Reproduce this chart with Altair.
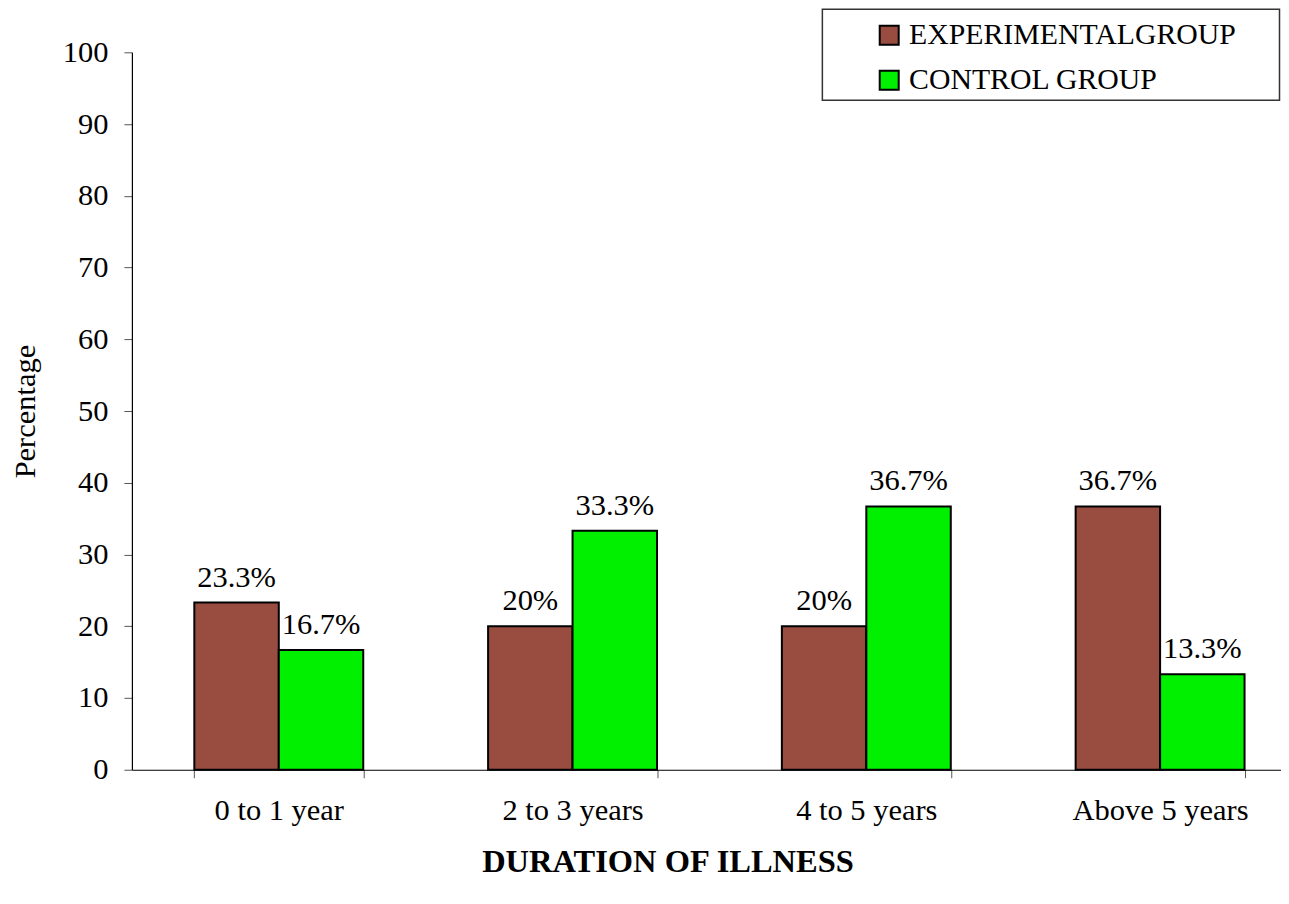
import altair as alt
import pandas as pd

categories = ["0 to 1 year", "2 to 3 years", "4 to 5 years", "Above 5 years"]
groups = ["EXPERIMENTALGROUP", "CONTROL GROUP"]
experimental = [23.3, 20, 20, 36.7]
control = [16.7, 33.3, 36.7, 13.3]
exp_labels = ["23.3%", "20%", "20%", "36.7%"]
ctl_labels = ["16.7%", "33.3%", "36.7%", "13.3%"]
colors = ["#994C40", "#00F000"]

rows = []
for i, c in enumerate(categories):
    rows.append({"cat": c, "group": groups[0], "value": experimental[i], "label": exp_labels[i]})
    rows.append({"cat": c, "group": groups[1], "value": control[i], "label": ctl_labels[i]})
df = pd.DataFrame(rows)

FONT = "Liberation Serif"
FS = 30.5

x_enc = alt.X(
    "cat:N",
    sort=categories,
    scale=alt.Scale(range=[0, 1176], paddingInner=0.425, paddingOuter=0.2125),
    axis=alt.Axis(
        title="DURATION OF ILLNESS",
        titleFont=FONT, titleFontSize=32.5, titleFontWeight="bold", titleColor="black",
        titleX=536, titleY=76, titleAlign="center", titleBaseline="top", titleAnchor="start",
        labelFont=FONT, labelFontSize=FS, labelColor="black", labelAngle=0, labelPadding=18,
        tickBand="extent", tickSize=8, tickColor="#555", domainColor="black", domainWidth=1.2,
        grid=False,
    ),
)
xoff = alt.XOffset("group:N", sort=groups, scale=alt.Scale(paddingInner=0, paddingOuter=0))
y_enc = alt.Y(
    "value:Q",
    scale=alt.Scale(domain=[0, 100], nice=False),
    axis=alt.Axis(
        title="Percentage", values=list(range(0, 101, 10)),
        titleFont=FONT, titleFontSize=FS, titleFontWeight="normal", titleColor="black", titlePadding=22,
        labelFont=FONT, labelFontSize=FS, labelColor="black", labelPadding=16,
        tickSize=8, tickColor="#555", domainColor="black", domainWidth=1.2, grid=False,
    ),
)
color_enc = alt.Color(
    "group:N", sort=groups,
    scale=alt.Scale(domain=groups, range=colors),
    legend=alt.Legend(
        title=None, orient="none", legendX=743, legendY=-32, padding=0,
        symbolType="square", symbolSize=361, symbolStrokeColor="black", symbolStrokeWidth=2,
        symbolOpacity=1, labelFont=FONT, labelFontSize=29.8, labelColor="black",
        labelOffset=5, rowPadding=14, labelLimit=500,
    ),
)

bars = alt.Chart(df).mark_bar(stroke="black", strokeWidth=2, opacity=1).encode(
    x=x_enc, xOffset=xoff, y=y_enc, color=color_enc
)
texts = alt.Chart(df).mark_text(
    font=FONT, fontSize=FS, color="black", baseline="bottom", dy=-10
).encode(x=x_enc, xOffset=xoff, y=y_enc, text="label:N")

frame = alt.Chart(alt.Data(values=[{}])).mark_rect(
    fill="white", stroke="#333", strokeWidth=1.5
).encode(x=alt.value(691), x2=alt.value(1148.5), y=alt.value(-43), y2=alt.value(48))

chart = alt.layer(frame, bars, texts).properties(
    width=1150, height=718,
    autosize=alt.AutoSizeParams(type="none"),
    padding={"left": 124, "top": 44, "right": 0, "bottom": 120},
    background="white",
).configure_view(stroke=None)

chart.save("out.html", embed_options={"renderer": "svg", "actions": False})
